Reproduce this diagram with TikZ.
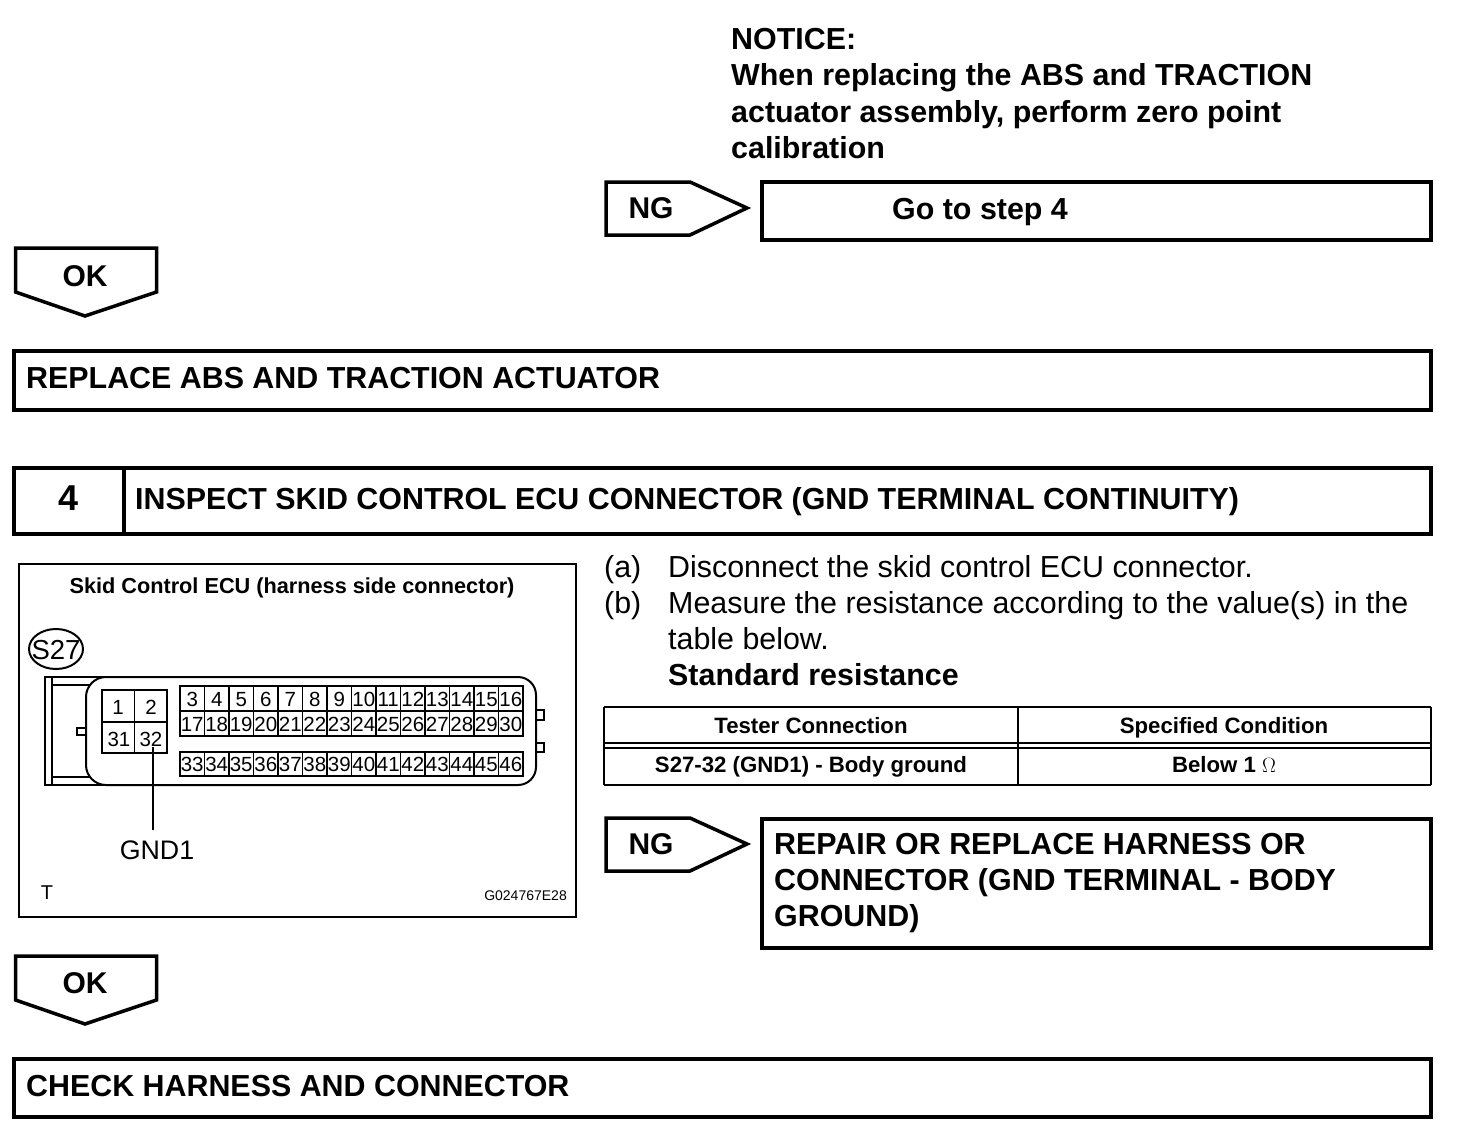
\documentclass[tikz,border=0pt]{standalone}
\usepackage{fontspec}
\setmainfont{Liberation Sans}
\usetikzlibrary{calc}

\begin{document}
\begin{tikzpicture}[
    x=1pt,
    y=-1pt,
    % Styles for frames and texts
    heavy box/.style={draw=black, line width=4pt},
    flag box/.style={draw=black, line width=3.5pt, line join=miter},
    thin line/.style={draw=black, line width=1.6pt},
    head label/.style={font=\fontsize{30.4}{36}\selectfont\bfseries, inner sep=0pt, anchor=base west, align=left},
    body label/.style={font=\fontsize{30.4}{36}\selectfont, inner sep=0pt, anchor=base west, align=left},
    flag label/.style={font=\fontsize{30}{36}\selectfont\bfseries, inner sep=0pt, anchor=base},
    table label/.style={font=\fontsize{22.2}{26}\selectfont\bfseries, inner sep=0pt, anchor=base},
    pin label/.style={font=\fontsize{20.5}{22}\selectfont, inner sep=0pt, anchor=base}
]
    % --- 1. PAGE ---
    \useasboundingbox (0,0) rectangle (1472,1140);

    % --- 2. NOTICE AND FIRST NG ---
    \node[head label] (notice1) at (731,50) {NOTICE:};
    \node[head label] (notice2) at (731,85.5) {When replacing the ABS and TRACTION};
    \node[head label] (notice3) at (731,122) {actuator assembly, perform zero point};
    \node[head label] (notice4) at (731,158) {calibration};

    \draw[flag box] (606,182) -- (690,182) -- (747,208) -- (690,235) -- (606,235) -- cycle;
    \node[flag label] (ng1) at (651,218) {NG};
    \draw[heavy box] (762,182) rectangle (1431,240);
    \node[head label] (gostep) at (892,219) {Go to step 4};

    % --- 3. FIRST OK ---
    \draw[flag box] (15.5,248) -- (156.5,248) -- (156.5,292) -- (85,316) -- (15.5,292) -- cycle;
    \node[flag label] (ok1) at (85,286) {OK};
    \draw[heavy box] (14,351) rectangle (1431,410);
    \node[head label] (replace) at (26,388) {REPLACE ABS AND TRACTION ACTUATOR};

    % --- 4. STEP HEADER ---
    \draw[heavy box] (14,468) rectangle (1431,534);
    \draw[heavy box] (124,468) -- (124,534);
    \node[font=\fontsize{36}{40}\selectfont\bfseries, inner sep=0pt] (stepnum) at (69,498) {4};
    \node[head label] (inspect) at (135,509) {INSPECT SKID CONTROL ECU CONNECTOR (GND TERMINAL CONTINUITY)};

    % --- 5. ECU FIGURE ---
    \draw[black, line width=2.5pt] (19,564) rectangle (576,917);
    \node[font=\fontsize{21.7}{24}\selectfont\bfseries, inner sep=0pt, anchor=base] (ecutitle) at (292,593) {Skid Control ECU (harness side connector)};
    \draw[black, line width=2pt] (56,649) ellipse (27 and 20);
    \node[font=\fontsize{27.5}{30}\selectfont, inner sep=0pt] (s27) at (56,650) {S27};

    % Connector body
    \draw[black, line width=2pt] (106,677) -- (45,677) -- (45,785) -- (106,785);
    \draw[thin line] (52,677) -- (52,785);
    \draw[thin line] (52,685) -- (90,685);
    \draw[thin line] (52,777) -- (90,777);
    \draw[black, line width=2pt] (106,677) -- (518,677) arc (-90:0:18) -- (536,767) arc (0:90:18) -- (106,785)
        arc (90:180:20) -- (86,697) arc (180:270:20) -- cycle;
    \draw[thin line] (86,728) -- (77,728) -- (77,735) -- (86,735);
    \draw[thin line] (536,710) -- (544,710) -- (544,720) -- (536,720);
    \draw[thin line] (536,743) -- (544,743) -- (544,752) -- (536,752);

    % Left block of four pins
    \draw[thin line] (102,690) rectangle (167,753);
    \draw[thin line] (134.5,690) -- (134.5,753);
    \draw[thin line] (102,722) -- (167,722);
    \node[pin label] (p1) at (118,714) {1};
    \node[pin label] (p2) at (151,714) {2};
    \node[pin label] (p31) at (119,746) {31};
    \node[pin label] (p32) at (151,746) {32};

    % Pin rows
    \draw[thin line] (180,686) rectangle (523,736);
    \draw[thin line] (180,711) -- (523,711);
    \draw[thin line] (180,752) rectangle (523,776);
    \foreach \col in {1,...,13} {
        \draw[thin line] ({180+24.5*\col},686) -- ({180+24.5*\col},736);
        \draw[thin line] ({180+24.5*\col},752) -- ({180+24.5*\col},776);
    }
    \foreach \col [evaluate=\col as \px using {192.25+24.5*\col},
                   evaluate=\col as \top using {int(3+\col)},
                   evaluate=\col as \mid using {int(17+\col)},
                   evaluate=\col as \low using {int(33+\col)}] in {0,...,13} {
        \node[pin label] (p\top) at (\px,706) {\top};
        \node[pin label] (p\mid) at (\px,731.5) {\mid};
        \node[pin label] (p\low) at (\px,771.5) {\low};
    }

    % Leader to GND1
    \coordinate (leadtop) at (153,747);
    \coordinate (leadend) at (153,830);
    \draw[thin line] (leadtop) -- (leadend);
    \node[font=\fontsize{26.8}{28}\selectfont, inner sep=0pt] (gnd1) at (157,850) {GND1};

    \node[font=\fontsize{20}{22}\selectfont, inner sep=0pt] (figt) at (47,893) {T};
    \node[font=\fontsize{14}{16}\selectfont, inner sep=0pt, anchor=east] (figcode) at (567,896) {G024767E28};

    % --- 6. PROCEDURE TEXT ---
    \node[body label] (ita) at (604,577) {(a)};
    \node[body label] (itatext) at (668,577) {Disconnect the skid control ECU connector.};
    \node[body label] (itb) at (604,613) {(b)};
    \node[body label] (itbtext1) at (668,613) {Measure the resistance according to the value(s) in the};
    \node[body label] (itbtext2) at (668,649) {table below.};
    \node[head label] (stdres) at (668,685) {Standard resistance};

    % --- 7. TABLE ---
    \draw[thin line] (604,707) -- (1431,707);
    \draw[thin line] (604,743) -- (1431,743);
    \draw[thin line] (604,748) -- (1431,748);
    \draw[thin line] (604,785) -- (1431,785);
    \draw[thin line] (604,707) -- (604,785);
    \draw[thin line] (1018,707) -- (1018,785);
    \draw[thin line] (1431,707) -- (1431,785);
    \node[table label] (thleft) at (811,733) {Tester Connection};
    \node[table label] (thright) at (1224,733) {Specified Condition};
    \node[table label] (tdleft) at (811,772) {S27-32 (GND1) - Body ground};
    \node[table label] (tdright) at (1224,772) {Below 1 $\Omega$};

    % --- 8. SECOND NG ---
    \draw[flag box] (606,818) -- (690,818) -- (747,844) -- (690,871) -- (606,871) -- cycle;
    \node[flag label] (ng2) at (651,854) {NG};
    \draw[heavy box] (762,819) rectangle (1431,948);
    \node[head label] (repair1) at (774,854) {REPAIR OR REPLACE HARNESS OR};
    \node[head label] (repair2) at (774,890) {CONNECTOR (GND TERMINAL - BODY};
    \node[head label] (repair3) at (774,926) {GROUND)};

    % --- 9. SECOND OK ---
    \draw[flag box] (15.5,956) -- (156.5,956) -- (156.5,1000) -- (85,1024) -- (15.5,1000) -- cycle;
    \node[flag label] (ok2) at (85,993) {OK};
    \draw[heavy box] (14,1059) rectangle (1431,1117);
    \node[head label] (check) at (26,1096) {CHECK HARNESS AND CONNECTOR};
\end{tikzpicture}
\end{document}
